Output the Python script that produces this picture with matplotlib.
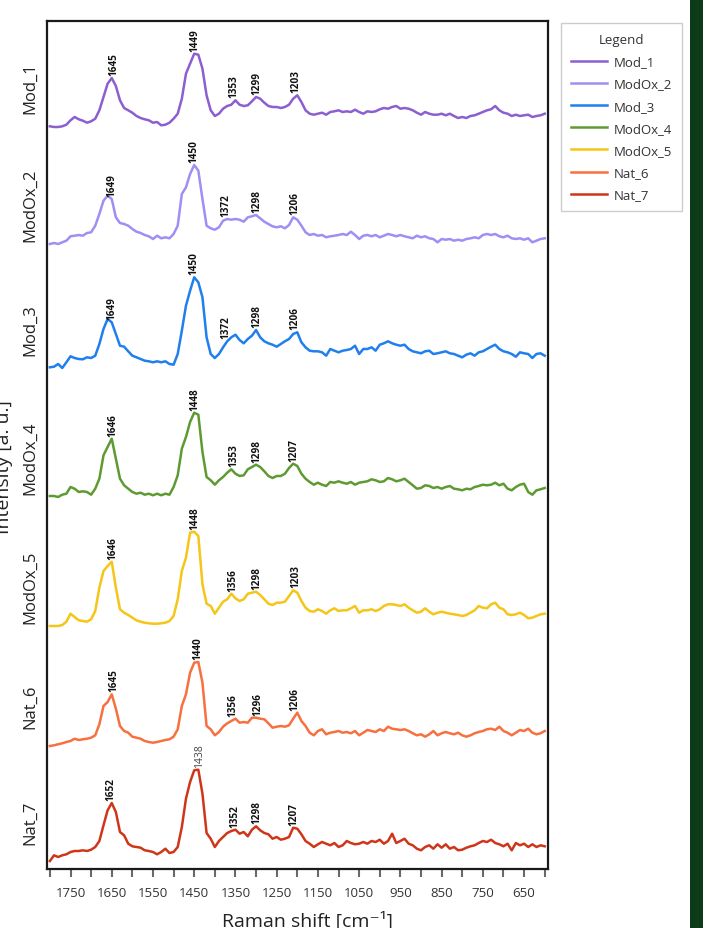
import numpy as np
import matplotlib
matplotlib.use("Agg")
import matplotlib.pyplot as plt
from matplotlib.patches import Rectangle

plt.rcParams['font.family'] = ['Open Sans', 'DejaVu Sans']

# ---------------- data ----------------
wavenumbers = np.arange(1800, 595, -10)  # 1800 ... 600 cm-1

names = ["Mod_1", "ModOx_2", "Mod_3", "ModOx_4", "ModOx_5", "Nat_6", "Nat_7"]
colors = ["#8c5fd0", "#9d90f5", "#1f7fef", "#5e9a32", "#f5c518", "#f7703f", "#cf3619"]

# vertical stacking offsets (a.u.)
offsets = [742, 625, 500, 372, 243, 123, 7]

mod_1 = [0.7, 0, 0, 0.7, 2.3, 6.7, 10, 7.7, 6.3, 4.3,
         5.7, 8.3, 16.7, 30, 43.3, 49, 41, 26.7, 19, 16.7,
         14.3, 11, 9, 7.7, 6.7, 4.3, 5, 1.7, 2.3, 4.3,
         8.3, 13.3, 28.3, 53.3, 63.3, 73.3, 72.3, 58.3, 31.7, 16.7,
         11, 13.3, 18.3, 21, 22.3, 26.7, 22.3, 21, 21.7, 25.7,
         30, 28.3, 24.3, 21, 20, 20, 19, 20, 22.3, 28.3,
         31.7, 25, 16.7, 13.3, 12.3, 13.3, 14.3, 12.3, 15, 15.7,
         16.7, 15, 15.7, 15, 17.3, 15, 13.3, 15.7, 15, 15.7,
         17.7, 19, 18.3, 20, 21, 18.3, 19, 18.3, 16.7, 14.3,
         12.3, 15, 13.3, 12.3, 12.3, 13.3, 11.7, 13.3, 11, 9,
         10, 9, 11, 11.7, 13.3, 15, 16.7, 17.7, 21, 16.7,
         14.3, 13.3, 11, 12.3, 11, 11.7, 12.3, 10, 11, 11.7,
         13.3]

modox_2 = [0, 1, 0, 1.7, 3.3, 7.7, 8.3, 9, 8.3, 11,
           11.7, 18.3, 30, 43.3, 48.3, 45, 26.7, 21, 20, 18.3,
           15, 12.3, 11, 9, 7.7, 5, 8.3, 5.7, 6.7, 5.7,
           10, 18.3, 50, 56.7, 70, 79, 73.3, 45, 18.3, 15.7,
           14.3, 16.7, 23.3, 25, 24.3, 25, 24.3, 22.3, 26.7, 27.7,
           29, 25.7, 22.3, 20, 17.7, 16.7, 17.7, 15.7, 19, 26.7,
           24.3, 18.3, 11.7, 9, 10, 8.3, 9, 6.7, 7.7, 8.3,
           9, 10, 9, 12.3, 9, 5, 8.3, 9, 7.7, 9,
           6.7, 8.3, 10, 9, 7.7, 9, 7.7, 6.7, 5.7, 8.3,
           6.7, 7.7, 5.7, 5, 1.7, 5, 4.3, 5, 3.3, 4.3,
           3.3, 5, 5.7, 6.7, 5.7, 9, 10, 9, 10, 7.7,
           6.7, 8.3, 5.7, 5, 5.7, 4.3, 5.7, 1.7, 3.3, 5,
           5.7]

mod_3 = [1.7, 2.3, 5, 1, 6.7, 12.7, 11, 10, 9.7, 11.7,
         11, 13.3, 25, 40, 50, 46.7, 35, 23.3, 22.3, 17.7,
         13.3, 11.7, 10, 8.3, 7.7, 6.7, 7.7, 6.7, 7.7, 5,
         4.3, 15, 38.3, 63.3, 78.3, 91.7, 86.7, 71.7, 31.7, 15,
         11, 15, 21.7, 27.7, 31.7, 34.3, 29, 25.7, 30, 33.3,
         39, 31.7, 27.7, 25.7, 24.3, 22.3, 25, 27.7, 30, 35,
         36.7, 26.7, 21.7, 18.3, 17.7, 17.7, 16.7, 13.3, 20, 18.3,
         16.7, 18.3, 19, 20, 23.3, 15, 20, 20, 21.7, 18.3,
         24.3, 25.7, 27.7, 25.7, 24.3, 23.3, 24.3, 20, 17.7, 16.7,
         15.7, 17.7, 18.3, 15, 15.7, 16.7, 17.7, 15.7, 15, 13.3,
         11.7, 14.3, 15.7, 13.3, 16.7, 17.7, 20, 22.3, 24.3, 20,
         17.7, 16.7, 15, 12.3, 16.7, 15.7, 15, 11, 15, 15.7,
         13.3]

modox_4 = [1, 1, 0, 2.3, 3.3, 10, 8.3, 5, 5.7, 5,
           2.3, 8.3, 18.3, 41.7, 50, 58.3, 38.3, 18.3, 11.7, 8.3,
           5, 3.3, 4.3, 2.3, 3.3, 1.7, 3.3, 1.7, 3.3, 2.3,
           10, 21.7, 48.3, 60, 75, 84.3, 82.3, 45, 20, 16.7,
           12.3, 16.7, 20, 24.3, 27.7, 23.3, 21, 21.7, 27.7, 30,
           32.3, 30, 25.7, 21, 19, 21, 21, 23.3, 29, 33.3,
           31, 23.3, 18.3, 15, 12.3, 14.3, 12.3, 11, 15, 14.3,
           15.7, 14.3, 13.3, 15, 12.3, 14.3, 15, 15.7, 17.7, 16.7,
           15, 15.7, 19, 17.7, 15.7, 16.7, 18.3, 15, 11.7, 8.3,
           9, 11.7, 11, 9, 10, 8.3, 10, 11, 8.3, 7.7,
           6.7, 8.3, 7.7, 10, 11, 12.3, 11.7, 12.3, 14.3, 11.7,
           13.3, 8.3, 6.7, 10, 12.3, 13.3, 5, 2.3, 6.7, 7.7,
           9]

modox_5 = [0, 0, 0, 1, 4.3, 12.3, 9, 5.7, 5, 4.3,
           6.7, 15, 38.3, 55, 60, 64.3, 38.3, 16.7, 13.3, 11,
           8.3, 5.7, 4.3, 3.3, 2.7, 2.3, 2.3, 2.7, 3.3, 5,
           10, 26.7, 55, 68.3, 93.3, 94.3, 90, 41.7, 22.3, 20,
           12.3, 18.3, 24.3, 26.7, 32.3, 27.7, 25, 26.7, 32.3, 33.3,
           34.3, 31, 26.7, 22.3, 21, 23.3, 23.3, 24.3, 30, 35.7,
           33.3, 25, 18.3, 15, 14.3, 16.7, 15, 12.3, 15.7, 17.7,
           15, 15.7, 15.7, 17.7, 20, 13.3, 15.7, 15.7, 16.7, 15,
           16.7, 20, 21.7, 21.7, 21, 20, 21.7, 18.3, 15.7, 13.3,
           14.3, 17.7, 14.3, 11.7, 13.3, 14.3, 13.3, 12.3, 11.7, 11,
           10, 11, 13.3, 15.7, 20, 18.3, 17.7, 21.7, 23.3, 18.3,
           16.7, 11.7, 11, 11.7, 13.3, 11, 7.7, 8.3, 10, 11.7,
           12.3]

nat_6 = [0, 0.7, 1.7, 2.7, 4, 5, 7.3, 6, 6.7, 7.3,
         8.3, 10.7, 21.7, 40, 44, 51.7, 37.3, 20, 15, 13.3,
         9.3, 8.3, 7.3, 5, 4, 3.3, 4, 5, 6, 6.7,
         9.3, 16.7, 40, 51.7, 73.3, 83.3, 84, 63.3, 20, 16.7,
         10.7, 14, 19.3, 22.7, 25, 27.3, 23.3, 24, 23.3, 28.3,
         28.3, 27.3, 26.7, 22.7, 18.3, 19.3, 20, 19.3, 20.7, 27.3,
         33.3, 25, 20, 13.3, 10.7, 15, 16.7, 11.7, 13.3, 14,
         15, 13.3, 14, 12.7, 15, 10.7, 13.3, 16, 15, 14,
         16.7, 15, 19.3, 17.3, 16.7, 16, 16.7, 15, 12.7, 10.7,
         11.7, 9.3, 11.7, 15, 10.7, 12.7, 14, 12.7, 11.7, 13.3,
         10.7, 9.3, 10.7, 12.7, 14, 15, 16.7, 17.3, 16, 19.3,
         15, 13.3, 10.7, 13.3, 16, 15, 17.3, 13.3, 11.7, 12.7,
         15]

nat_7 = [1, 6.7, 5, 6.7, 7.7, 10, 11, 11, 11.7, 11,
         12.3, 15, 21, 36.7, 51.7, 59, 50, 30, 26.7, 18.3,
         15.7, 15, 14.3, 11.7, 11, 10, 7.7, 10, 13.3, 9,
         10, 15, 35, 63.3, 80, 91.7, 92.3, 68.3, 29, 23.3,
         15, 21, 25, 29, 31, 32.3, 28.3, 30, 25.7, 32.3,
         35.7, 31.7, 29, 27.7, 23.3, 25, 22.3, 23.3, 25, 34.3,
         33.3, 27.7, 21, 18.3, 15, 17.7, 20, 18.3, 16.7, 19,
         15, 16.7, 21, 19, 17.7, 18.3, 20, 18.3, 21, 20,
         22.3, 18.3, 21, 28.3, 19, 21, 23.3, 18.3, 16.7, 13.3,
         11.7, 15, 16.7, 13.3, 17.7, 14.3, 17.7, 13.3, 15, 11.7,
         12.3, 14.3, 15.7, 16.7, 19, 21, 20, 22.3, 19, 17.7,
         15.7, 18.3, 11.7, 19, 16.7, 18.3, 15, 17.7, 15, 16.7,
         15.7]

series = [mod_1, modox_2, mod_3, modox_4, modox_5, nat_6, nat_7]

# peak annotations (cm-1) for each spectrum
peak_labels = [
    [1645, 1449, 1353, 1299, 1203],
    [1649, 1450, 1372, 1298, 1206],
    [1649, 1450, 1372, 1298, 1206],
    [1646, 1448, 1353, 1298, 1207],
    [1646, 1448, 1356, 1298, 1203],
    [1645, 1440, 1356, 1296, 1206],
    [1652, 1438, 1352, 1298, 1207],
]

xticks_major = [1750, 1650, 1550, 1450, 1350, 1250, 1150, 1050, 950, 850, 750, 650]
xticks_minor = [1800, 1700, 1600, 1500, 1400, 1300, 1200, 1100, 1000, 900, 800, 700, 600]

# ---------------- figure ----------------
W, H = 724, 929
fig = plt.figure(figsize=(W / 100, H / 100), dpi=100)
ax = fig.add_axes([47 / W, 59 / H, 501 / W, 848 / H])

lines = []
for name, col, off, vals in zip(names, colors, offsets, series):
    y = np.asarray(vals, dtype=float) + off
    ln, = ax.plot(wavenumbers, y, color=col, lw=1.8, label=name, solid_joinstyle='round')
    lines.append(ln)

# peak labels
for idx, (off, vals, labs) in enumerate(zip(offsets, series, peak_labels)):
    v = np.asarray(vals, dtype=float)
    for lab in labs:
        near = np.abs(wavenumbers - lab) <= 10
        top = off + v[near].max() + 3
        if idx == 6 and lab == 1438:
            ax.text(lab, top, str(lab), rotation=90, ha='center', va='bottom',
                    fontsize=7.5, color='#444444', clip_on=False)
        else:
            ax.text(lab, top, str(lab), rotation=90, ha='center', va='bottom',
                    fontsize=7.2, fontweight='bold', color='#111111', clip_on=False)

ax.set_xlim(1807, 592)
ax.set_ylim(0, 848)

ax.set_xticks(xticks_major)
ax.set_xticklabels([str(t) for t in xticks_major])
ax.set_xticks(xticks_minor, minor=True)
ax.tick_params(axis='x', which='both', direction='out', length=6, width=1.5,
               color='#6a6a6a', pad=6, labelsize=9.5, labelcolor='#333333')

ax.set_yticks([o + 40 for o in offsets])
ax.set_yticklabels(names, rotation=90, va='center')
ax.tick_params(axis='y', length=0, pad=6, labelsize=12, labelcolor='#222222')

for sp in ax.spines.values():
    sp.set_linewidth(1.6)
    sp.set_color('#1a1a1a')

fig.text(307 / W, 2 / H, 'Raman shift [cm⁻¹]', ha='center', va='baseline',
         fontsize=14, color='#222222')
fig.text(13 / W, 1 - 467 / H, 'Intensity [a. u.]', rotation=90, ha='right',
         va='center', fontsize=14, color='#222222')

leg = ax.legend(handles=lines, loc='upper left',
                bbox_to_anchor=(561 / W, 1 - 24 / H), bbox_transform=fig.transFigure,
                title='Legend', fontsize=9.5, title_fontsize=9.5, frameon=True,
                fancybox=False, edgecolor='#cccccc', framealpha=1,
                borderaxespad=0, borderpad=0.75, handlelength=2.7,
                handletextpad=0.55, labelspacing=0.70)
leg.get_frame().set_linewidth(1.0)
for t in leg.get_texts():
    t.set_color('#333333')
leg.get_title().set_color('#333333')

fig.add_artist(Rectangle((690 / W, 0), 13 / W, 1, transform=fig.transFigure,
                         facecolor='#0c3b17', edgecolor='none'))

fig.savefig('out.png', dpi=100)
